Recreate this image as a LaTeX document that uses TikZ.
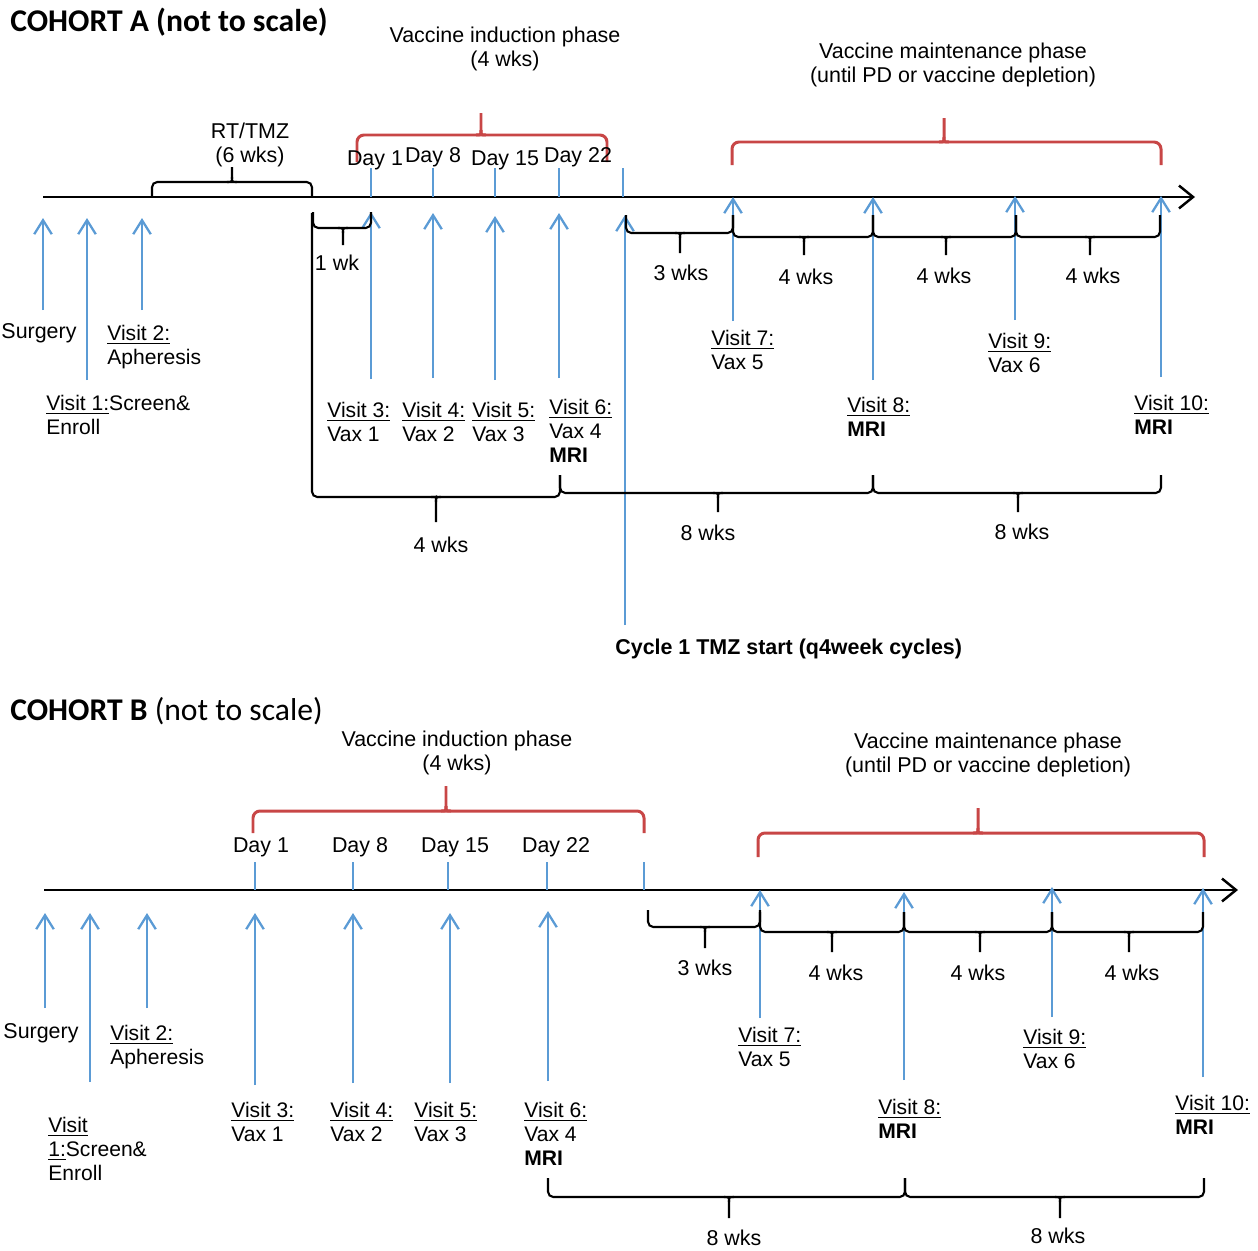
\documentclass[tikz,border=0pt]{standalone}
\usepackage{fontspec}
\setmainfont{Liberation Sans}
\newfontfamily\titlefont{Carlito}
\usetikzlibrary{arrows.meta}
\definecolor{vblue}{RGB}{91,155,213}
\definecolor{vred}{RGB}{200,70,70}
% bracket: style, x1, x2, y of ends, y of bar, x of spike, y of spike
\def\tlbrace#1#2#3#4#5#6#7{%
  \pgfmathsetmacro\tlsgn{sign(#7-#5)*5}
  \draw[#1] (#2,#4) -- (#2,#5) -- (#3,#5) -- (#3,#4);
  \draw[#1,rounded corners=0pt] (#6-5,#5) .. controls (#6,#5) .. (#6,{#5+\tlsgn}) -- (#6,#7);
  \draw[#1,rounded corners=0pt] (#6+5,#5) .. controls (#6,#5) .. (#6,{#5+\tlsgn});}
\tikzset{
  axis/.style={black,line width=1.4pt,-{Straight Barb[length=8pt,width=13pt]}},
  vis/.style={vblue,line width=1.3pt,-{Straight Barb[length=8pt,width=10pt]}},
  dtick/.style={vblue,line width=1.3pt},
  brk/.style={black,line width=1.2pt,rounded corners=3pt},
  rbrk/.style={vred,line width=1.7pt,rounded corners=4pt},
  txt/.style={inner sep=0pt,align=center,font=\fontsize{12.2}{14}\selectfont},
  lbl/.style={anchor=north west,inner sep=0pt,align=left,font=\fontsize{12}{13.7}\selectfont},
  ttl/.style={anchor=west,inner sep=0pt,font=\titlefont\fontsize{18}{21}\selectfont}
}
\begin{document}
\begin{tikzpicture}[x=0.02cm,y=-0.02cm]
  \useasboundingbox (0,0) rectangle (1258,1251);
  % cohort A
  \node[ttl] (a-title) at (10,22) {\bfseries COHORT A (not to scale)};
  \draw[axis] (43,197) -- (1195,197);
  \foreach \x in {371,433,495,559,623}
    \draw[dtick] (\x,168) -- (\x,197);
  \foreach \x/\yb/\yt in {43/310/218,87/380/218,142/310/218,371/379/212,433/378/213,
      495/380/216,559/378/213,625/625/215,733/321/197,873/380/197,1015/320/196,1161/377/196}
    \draw[vis] (\x,\yb) -- (\x,\yt);
  \tlbrace{brk}{152}{312}{197}{182}{232}{167}
  \tlbrace{brk}{313}{371}{212}{228}{343}{245}
  \draw[brk] (312,213) -- (312,497) -- (560,497) -- (560,475);
  \draw[brk] (431,497) .. controls (436,497) .. (436,502) -- (436,522);
  \draw[brk] (441,497) .. controls (436,497) .. (436,502);
  \tlbrace{brk}{560}{873}{475}{493}{718}{512}
  \tlbrace{brk}{873}{1161}{475}{493}{1018}{512}
  \tlbrace{brk}{626}{733}{215}{233}{680}{253}
  \tlbrace{brk}{733}{873}{215}{237}{804}{255}
  \tlbrace{brk}{873}{1016}{215}{237}{946}{255}
  \tlbrace{brk}{1016}{1160}{215}{237}{1090}{255}
  \tlbrace{rbrk}{357}{607}{162}{135}{481}{113}
  \tlbrace{rbrk}{732}{1161}{165}{142}{944}{118}
  \node[txt] (a-rt) at (250,145) {RT/TMZ\\(6 wks)};
  \node[txt] (a-ind) at (505,49) {Vaccine induction phase\\(4 wks)};
  \node[txt] (a-mnt) at (953,65) {Vaccine maintenance phase\\(until PD or vaccine depletion)};
  \node[txt] (a-d1) at (375,160) {Day 1};
  \node[txt] (a-d8) at (433,157) {Day 8};
  \node[txt] (a-d15) at (505,160) {Day 15};
  \node[txt] (a-d22) at (578,157) {Day 22};
  \node[txt] (a-w1) at (337,263) {1 wk};
  \node[txt] (a-w4) at (441,545) {4 wks};
  \node[txt] (a-w3m) at (681,273) {3 wks};
  \node[txt] (a-w4a) at (806,277) {4 wks};
  \node[txt] (a-w4b) at (944,276) {4 wks};
  \node[txt] (a-w4c) at (1093,276) {4 wks};
  \node[txt] (a-w8a) at (708,533) {8 wks};
  \node[txt] (a-w8b) at (1022,532) {8 wks};
  \node[txt] (a-surg) at (39,333) {Surgery};
  \node[lbl] (a-v1) at (46,395) {\underline{Visit 1:}Screen\&\\Enroll};
  \node[lbl] (a-v2) at (107,325) {\underline{Visit 2:}\\Apheresis};
  \node[lbl] (a-v3) at (327,402) {\underline{Visit 3:}\\Vax 1};
  \node[lbl] (a-v4) at (402,402) {\underline{Visit 4:}\\Vax 2};
  \node[lbl] (a-v5) at (472,402) {\underline{Visit 5:}\\Vax 3};
  \node[lbl] (a-v6) at (549,399) {\underline{Visit 6:}\\Vax 4\\\textbf{MRI}};
  \node[lbl] (a-v7) at (711,330) {\underline{Visit 7:}\\Vax 5};
  \node[lbl] (a-v8) at (847,397) {\underline{Visit 8:}\\\textbf{MRI}};
  \node[lbl] (a-v9) at (988,333) {\underline{Visit 9:}\\Vax 6};
  \node[lbl] (a-v10) at (1134,395) {\underline{Visit 10:}\\\textbf{MRI}};
  \node[txt,anchor=west] (a-cyc) at (615,649) {\bfseries Cycle 1 TMZ start (q4week cycles)};
  % cohort B
  \node[ttl] (b-title) at (10,711) {\textbf{COHORT B} (not to scale)};
  \draw[axis] (44,890) -- (1238,890);
  \foreach \x in {255,353,448,547,644}
    \draw[dtick] (\x,862) -- (\x,890);
  \foreach \x/\yb/\yt in {45/1008/913,90/1082/913,147/1008/913,255/1085/913,353/1083/913,
      450/1083/913,548/1081/911,760/1018/890,904/1080/892,1052/1017/887,1203/1077/888}
    \draw[vis] (\x,\yb) -- (\x,\yt);
  \tlbrace{rbrk}{253}{644}{833}{811}{446}{786}
  \tlbrace{rbrk}{758}{1204}{857}{833}{978}{808}
  \tlbrace{brk}{648}{760}{910}{927}{705}{948}
  \tlbrace{brk}{760}{904}{912}{932}{832}{952}
  \tlbrace{brk}{904}{1052}{912}{932}{980}{952}
  \tlbrace{brk}{1052}{1203}{912}{932}{1129}{952}
  \tlbrace{brk}{548}{905}{1178}{1197}{729}{1218}
  \tlbrace{brk}{905}{1204}{1178}{1197}{1060}{1218}
  \node[txt] (b-ind) at (457,753) {Vaccine induction phase\\(4 wks)};
  \node[txt] (b-mnt) at (988,755) {Vaccine maintenance phase\\(until PD or vaccine depletion)};
  \node[txt] (b-d1) at (261,847) {Day 1};
  \node[txt] (b-d8) at (360,847) {Day 8};
  \node[txt] (b-d15) at (455,847) {Day 15};
  \node[txt] (b-d22) at (556,847) {Day 22};
  \node[txt] (b-w3m) at (705,968) {3 wks};
  \node[txt] (b-w4a) at (836,973) {4 wks};
  \node[txt] (b-w4b) at (978,973) {4 wks};
  \node[txt] (b-w4c) at (1132,973) {4 wks};
  \node[txt] (b-w8a) at (734,1238) {8 wks};
  \node[txt] (b-w8b) at (1058,1236) {8 wks};
  \node[txt] (b-surg) at (41,1033) {Surgery};
  \node[lbl] (b-v1) at (48,1117) {\underline{Visit}\\\underline{1:}Screen\&\\Enroll};
  \node[lbl] (b-v2) at (110,1025) {\underline{Visit 2:}\\Apheresis};
  \node[lbl] (b-v3) at (231,1102) {\underline{Visit 3:}\\Vax 1};
  \node[lbl] (b-v4) at (330,1102) {\underline{Visit 4:}\\Vax 2};
  \node[lbl] (b-v5) at (414,1102) {\underline{Visit 5:}\\Vax 3};
  \node[lbl] (b-v6) at (524,1102) {\underline{Visit 6:}\\Vax 4\\\textbf{MRI}};
  \node[lbl] (b-v7) at (738,1027) {\underline{Visit 7:}\\Vax 5};
  \node[lbl] (b-v8) at (878,1099) {\underline{Visit 8:}\\\textbf{MRI}};
  \node[lbl] (b-v9) at (1023,1029) {\underline{Visit 9:}\\Vax 6};
  \node[lbl] (b-v10) at (1175,1095) {\underline{Visit 10:}\\\textbf{MRI}};
\end{tikzpicture}
\end{document}
